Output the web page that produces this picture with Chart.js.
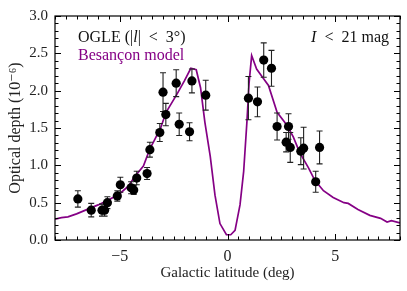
<!DOCTYPE html>
<html>
<head>
<meta charset="utf-8">
<script src="https://cdn.jsdelivr.net/npm/chart.js@4.4.0/dist/chart.umd.min.js"></script>
<style>
  html, body { margin: 0; padding: 0; background: #fff; }
  #chart { display: block; }
</style>
</head>
<body>
<canvas id="chart" width="407" height="291"></canvas>
<script>
// OGLE measurements: galactic latitude, optical depth (1e-6), error
var ogleLat = [-6.94, -6.32, -5.82, -5.70, -5.57, -5.11, -4.97, -4.47, -4.35, -4.21,
    -3.73, -3.60, -3.14, -2.99, -2.86, -2.38, -2.24, -1.76, -1.65, -1.01,
    0.97, 1.39, 1.68, 2.04, 2.30, 2.72, 2.83, 2.91, 3.40, 3.53, 4.09, 4.27];
var ogleTau = [0.55, 0.40, 0.40, 0.40, 0.50, 0.59, 0.74, 0.70, 0.67, 0.83,
    0.89, 1.21, 1.44, 1.98, 1.68, 2.10, 1.55, 1.45, 2.13, 1.94,
    1.90, 1.85, 2.41, 2.30, 1.52, 1.31, 1.52, 1.24, 1.19, 1.23, 0.78, 1.24];
var ogleErr = [0.11, 0.09, 0.08, 0.08, 0.08, 0.07, 0.10, 0.08, 0.06, 0.09,
    0.08, 0.10, 0.12, 0.26, 0.15, 0.18, 0.15, 0.12, 0.16, 0.20,
    0.29, 0.20, 0.23, 0.24, 0.18, 0.13, 0.17, 0.20, 0.18, 0.28, 0.14, 0.22];

// Besancon model curve
var modelLat = [-8.0, -7.7, -7.4, -7.0, -6.5, -6.0, -5.5, -5.0, -4.6, -4.3, -3.9, -3.6,
    -3.4, -3.1, -2.85, -2.6, -2.35, -2.0, -1.7, -1.45, -1.25, -1.05, -0.8, -0.58,
    -0.35, -0.05, 0.15, 0.35, 0.58, 0.75, 0.9, 1.0, 1.12, 1.35, 1.65, 1.9,
    2.3, 2.75, 3.05, 3.35, 3.75, 4.05, 4.45, 4.9, 5.4, 5.6, 6.05, 6.6, 7.1, 7.4, 7.6, 8.0];
var modelTau = [0.28, 0.30, 0.31, 0.35, 0.41, 0.47, 0.54, 0.62, 0.72, 0.85, 0.99, 1.22,
    1.33, 1.50, 1.71, 1.83, 1.95, 2.13, 2.30, 2.28, 2.04, 1.58, 1.12, 0.60,
    0.22, 0.07, 0.07, 0.13, 0.47, 0.92, 1.58, 2.10, 2.47, 2.29, 2.17, 2.07,
    1.71, 1.54, 1.38, 1.17, 0.97, 0.80, 0.66, 0.57, 0.50, 0.49, 0.41, 0.33, 0.29, 0.24, 0.26, 0.23];

var xMajor = [-5, 0, 5];
var yMajor = [0, 0.5, 1, 1.5, 2, 2.5, 3];

var serif = "'Liberation Serif', 'DejaVu Serif', serif";
var purple = '#850085';

function seq(a, b, step) {
    var out = [];
    for (var v = a; v <= b + 1e-9; v += step) out.push(Math.round(v * 100) / 100);
    return out;
}

// frame with inward ticks on all four sides
var framePlugin = {
    id: 'frame',
    afterDatasetsDraw: function(chart) {
        var ctx = chart.ctx, a = chart.chartArea;
        var xs = chart.scales.x, ys = chart.scales.y;
        ctx.save();
        ctx.strokeStyle = '#000';
        ctx.lineWidth = 1;
        ctx.beginPath();
        seq(-8, 8, 0.5).forEach(function(v) {
            var len = xMajor.indexOf(v) >= 0 ? 6 : 3.5;
            var px = Math.round(xs.getPixelForValue(v)) + 0.5;
            ctx.moveTo(px, a.bottom); ctx.lineTo(px, a.bottom - len);
            ctx.moveTo(px, a.top); ctx.lineTo(px, a.top + len);
        });
        seq(0, 3, 0.1).forEach(function(v) {
            var major = Math.abs(v * 2 - Math.round(v * 2)) < 1e-6;
            var len = major ? 6 : 3.5;
            var py = Math.round(ys.getPixelForValue(v)) + 0.5;
            ctx.moveTo(a.left, py); ctx.lineTo(a.left + len, py);
            ctx.moveTo(a.right, py); ctx.lineTo(a.right - len, py);
        });
        ctx.stroke();
        ctx.lineWidth = 1.2;
        ctx.strokeRect(a.left, a.top, a.right - a.left, a.bottom - a.top);
        ctx.restore();
    }
};

// error bars, drawn just before the points
var errorBarPlugin = {
    id: 'errorBars',
    beforeDatasetDraw: function(chart, args) {
        if (args.index !== 1) return;
        var ctx = chart.ctx, xs = chart.scales.x, ys = chart.scales.y;
        ctx.save();
        ctx.strokeStyle = '#222';
        ctx.lineWidth = 1.1;
        ctx.beginPath();
        ogleLat.forEach(function(lat, i) {
            var px = xs.getPixelForValue(lat);
            var lo = ys.getPixelForValue(ogleTau[i] - ogleErr[i]);
            var hi = ys.getPixelForValue(ogleTau[i] + ogleErr[i]);
            ctx.moveTo(px, lo); ctx.lineTo(px, hi);
            ctx.moveTo(px - 3, lo); ctx.lineTo(px + 3, lo);
            ctx.moveTo(px - 3, hi); ctx.lineTo(px + 3, hi);
        });
        ctx.stroke();
        ctx.restore();
    }
};

function drawRuns(ctx, x, y, runs, align) {
    var total = 0;
    runs.forEach(function(r) {
        ctx.font = (r.italic ? 'italic ' : '') + '16px ' + serif;
        r.w = ctx.measureText(r.t).width;
        total += r.w;
    });
    if (align === 'right') x -= total;
    runs.forEach(function(r) {
        ctx.font = (r.italic ? 'italic ' : '') + '16px ' + serif;
        ctx.fillText(r.t, x, y);
        x += r.w;
    });
}

var labelPlugin = {
    id: 'labels',
    afterDraw: function(chart) {
        var ctx = chart.ctx;
        ctx.save();
        ctx.textBaseline = 'alphabetic';
        ctx.textAlign = 'left';
        ctx.fillStyle = '#111';
        drawRuns(ctx, 78, 42, [{t: 'OGLE (|'}, {t: 'l', italic: true}, {t: '|\u2002<\u20023°)'}]);
        ctx.fillStyle = purple;
        drawRuns(ctx, 78, 60, [{t: 'Besançon model'}]);
        ctx.fillStyle = '#111';
        drawRuns(ctx, 389, 42, [{t: 'I', italic: true}, {t: '\u2002<\u200221 mag'}], 'right');
        ctx.restore();
    }
};

var ctx = document.getElementById('chart').getContext('2d');
new Chart(ctx, {
    data: {
        datasets: [{
            type: 'line',
            label: 'Besançon model',
            data: modelLat.map(function(v, i) { return {x: v, y: modelTau[i]}; }),
            borderColor: purple,
            borderWidth: 1.7,
            pointRadius: 0,
            tension: 0,
            fill: false,
            order: 2
        }, {
            type: 'scatter',
            label: 'OGLE',
            data: ogleLat.map(function(v, i) { return {x: v, y: ogleTau[i]}; }),
            backgroundColor: '#000',
            borderColor: '#000',
            pointRadius: 4.6,
            borderWidth: 0,
            order: 1
        }]
    },
    options: {
        responsive: false,
        devicePixelRatio: 1,
        animation: false,
        layout: { padding: { top: 15, right: 7, left: 0, bottom: 0 } },
        plugins: {
            legend: { display: false },
            tooltip: { enabled: false }
        },
        scales: {
            x: {
                type: 'linear',
                min: -8,
                max: 8,
                grid: { display: false, drawTicks: false },
                border: { display: false },
                afterBuildTicks: function(s) { s.ticks = xMajor.map(function(v) { return {value: v}; }); },
                afterFit: function(s) { s.height = 51; },
                ticks: {
                    padding: 7,
                    color: '#222',
                    font: { family: serif, size: 16 },
                    callback: function(v) { return v < 0 ? '\u2212' + Math.abs(v) : String(v); }
                },
                title: {
                    display: true,
                    text: 'Galactic latitude (deg)',
                    color: '#222',
                    font: { family: serif, size: 15 },
                    padding: { top: 9, bottom: 9 }
                }
            },
            y: {
                type: 'linear',
                min: 0,
                max: 3,
                grid: { display: false, drawTicks: false },
                border: { display: false },
                afterBuildTicks: function(s) { s.ticks = yMajor.map(function(v) { return {value: v}; }); },
                afterFit: function(s) { s.width = 55; },
                ticks: {
                    padding: 7,
                    color: '#222',
                    font: { family: serif, size: 15 },
                    callback: function(v) { return v.toFixed(1); }
                },
                title: {
                    display: true,
                    text: 'Optical depth (10\u207B\u2076)',
                    color: '#222',
                    font: { family: serif, size: 16 },
                    padding: { top: 6, bottom: 6 }
                }
            }
        }
    },
    plugins: [errorBarPlugin, framePlugin, labelPlugin]
});
</script>
</body>
</html>
